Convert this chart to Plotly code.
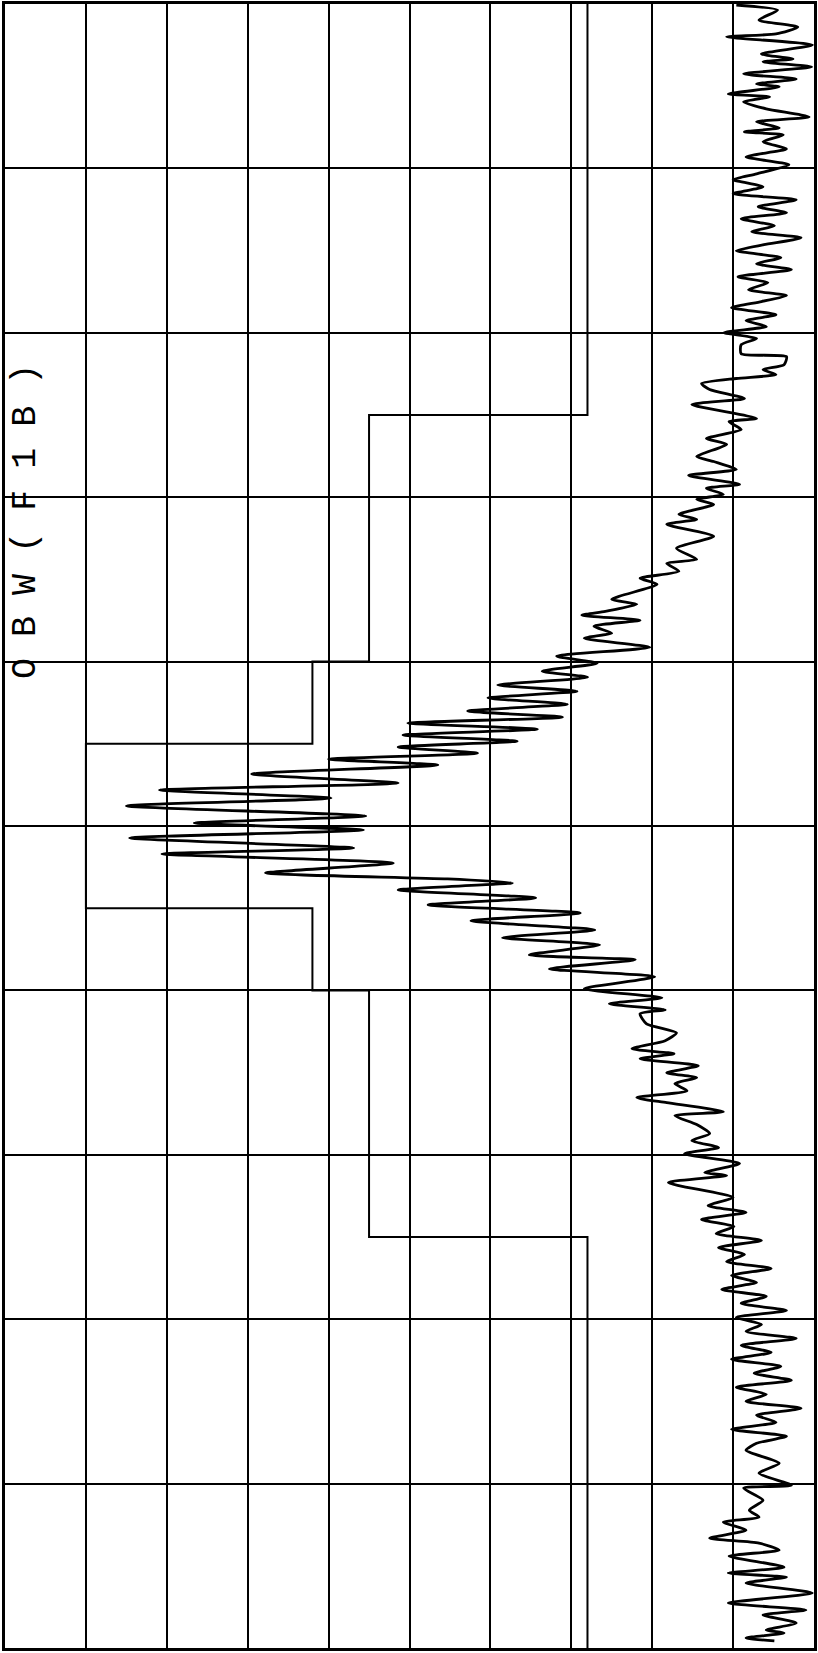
import plotly.graph_objects as go

# Frequency offset (divisions from centre, top = -5) and level (dB, 10 dB/div, ref 0 dB)
freq_top = [-4.994, -4.963, -4.903, -4.860, -4.818, -4.800, -4.751, -4.696, -4.666, -4.648,
            -4.617, -4.575, -4.544, -4.514, -4.496, -4.453, -4.435, -4.405, -4.362, -4.313,
            -4.283, -4.247, -4.222, -4.204, -4.162, -4.119, -4.070, -4.022, -3.967, -3.931,
            -3.888, -3.846, -3.809, -3.767, -3.730, -3.694, -3.651, -3.615, -3.578, -3.536,
            -3.499, -3.457, -3.420, -3.384, -3.341, -3.305, -3.262, -3.226, -3.190, -3.153,
            -3.110, -3.074, -3.038, -3.001, -2.965, -2.928]
level_top = [-90.4, -95.5, -93.2, -98.0, -95.3, -89.2, -99.8, -93.5, -97.4, -93.7,
             -99.7, -91.3, -97.8, -92.9, -95.7, -89.4, -94.5, -91.3, -94.1, -99.4,
             -92.9, -95.7, -91.4, -96.2, -93.7, -96.6, -91.6, -96.9, -92.9, -90.0,
             -93.7, -90.0, -97.8, -93.1, -96.6, -91.0, -95.1, -92.3, -98.4, -93.8,
             -90.4, -95.9, -92.9, -97.2, -90.6, -94.3, -91.9, -96.6, -93.5, -89.8,
             -95.3, -91.6, -94.1, -88.9, -92.9, -91.0]

freq_rise = [-2.873, -2.855, -2.806, -2.776, -2.746, -2.722, -2.691, -2.655, -2.600, -2.564,
             -2.479, -2.460, -2.412, -2.357, -2.321, -2.248, -2.217, -2.169, -2.132, -2.078,
             -2.054, -2.017, -1.987, -1.956, -1.896, -1.865, -1.835, -1.762, -1.689, -1.622,
             -1.598, -1.549, -1.507, -1.470, -1.379, -1.349, -1.306, -1.282, -1.252, -1.215,
             -1.173, -1.142, -1.087, -1.033, -0.990, -0.942, -0.905, -0.857, -0.820, -0.778,
             -0.741, -0.699, -0.662, -0.626, -0.589, -0.553, -0.516, -0.480, -0.443, -0.407,
             -0.371]
level_rise = [-91.0, -96.6, -96.3, -93.7, -95.3, -90.4, -86.1, -87.1, -91.4, -84.9,
              -92.9, -89.5, -91.0, -86.7, -89.2, -85.5, -87.6, -90.4, -84.5, -90.8,
              -86.7, -88.8, -85.5, -87.6, -83.3, -85.5, -81.8, -87.6, -83.0, -85.5,
              -81.8, -83.3, -78.5, -80.6, -75.0, -78.1, -74.2, -71.3, -78.5, -72.8,
              -75.0, -71.6, -79.7, -68.2, -73.2, -66.4, -72.0, -60.9, -70.7, -59.7,
              -69.5, -57.2, -68.9, -49.8, -65.8, -49.2, -63.3, -48.6, -58.4, -40.0,
              -53.5]

freq_peak = [-0.316, -0.261, -0.219, -0.170, -0.122, -0.061, -0.018, 0.024, 0.073, 0.134,
             0.170, 0.225, 0.286, 0.322]
level_peak = [-30.5, -48.6, -19.1, -40.3, -15.0, -44.6, -23.4, -44.3, -15.4, -43.1,
              -19.4, -48.0, -32.2, -54.7]

freq_fall = [0.346, 0.389, 0.437, 0.480, 0.529, 0.577, 0.632, 0.680, 0.723, 0.784,
             0.814, 0.869, 0.917, 0.990, 1.045, 1.081, 1.118, 1.142, 1.203, 1.258,
             1.306, 1.355, 1.385, 1.416, 1.458, 1.501, 1.531, 1.567, 1.610, 1.652,
             1.683, 1.738, 1.762, 1.816, 1.871, 1.914, 1.956, 1.993, 2.053, 2.108,
             2.126, 2.169, 2.260]
level_fall = [-62.7, -48.6, -65.6, -52.3, -71.1, -57.6, -72.9, -61.5, -73.5, -64.8,
              -77.9, -67.3, -80.3, -71.6, -81.2, -74.7, -81.6, -78.5, -79.3, -83.0,
              -81.6, -77.5, -82.7, -78.5, -85.7, -81.8, -85.5, -82.8, -84.3, -78.1,
              -81.8, -88.8, -82.8, -85.5, -87.1, -84.9, -88.2, -84.0, -90.8, -86.5,
              -89.2, -82.0, -90.0]

freq_bottom = [2.309, 2.351, 2.394, 2.436, 2.479, 2.521, 2.564, 2.606, 2.649, 2.691,
               2.734, 2.776, 2.819, 2.861, 2.904, 2.947, 2.989, 3.032, 3.074, 3.117,
               3.159, 3.202, 3.244, 3.287, 3.329, 3.372, 3.414, 3.457, 3.499, 3.542,
               3.584, 3.627, 3.670, 3.712, 3.755, 3.797, 3.876, 3.937, 4.010, 4.028,
               4.101, 4.162, 4.204, 4.235, 4.283, 4.332, 4.362, 4.405, 4.441, 4.508,
               4.544, 4.569, 4.605, 4.666, 4.726, 4.769, 4.799, 4.848, 4.891, 4.909,
               4.939, 4.957]
level_bottom = [-86.9, -91.6, -86.1, -90.1, -87.9, -93.5, -88.2, -91.4, -89.2, -94.7,
                -89.8, -92.9, -88.6, -94.1, -91.0, -96.6, -90.4, -93.5, -91.6, -97.8,
                -91.0, -94.7, -89.8, -95.9, -92.6, -97.2, -90.4, -94.1, -91.6, -98.4,
                -92.9, -95.3, -89.8, -96.6, -92.9, -91.6, -95.7, -93.2, -97.2, -91.3,
                -93.7, -92.0, -93.2, -88.8, -91.6, -87.1, -93.2, -95.7, -89.5, -96.3,
                -89.4, -96.6, -91.6, -99.8, -89.4, -99.0, -93.7, -97.8, -94.1, -96.3,
                -91.6, -95.1]

# Spectrum emission mask (segment start frequencies and levels)
mask_freq = [-5, -2.5, -1.0, -0.5, 0.5, 1.0, 2.5, 5]
mask_level = [-72, -45, -38, -10, -38, -45, -72, -72]

label_text = "O B W ( F 1 B )"

trace_freq = freq_top + freq_rise + freq_peak + freq_fall + freq_bottom
trace_level = level_top + level_rise + level_peak + level_fall + level_bottom

fig = go.Figure()
fig.add_trace(go.Scatter(x=mask_level, y=mask_freq, mode="lines",
                         line=dict(color="black", width=2, shape="vh"),
                         hoverinfo="skip", showlegend=False))
fig.add_trace(go.Scatter(x=trace_level, y=trace_freq, mode="lines",
                         line=dict(color="black", width=2.8, shape="spline", smoothing=0.6),
                         showlegend=False))

fig.add_annotation(x=-2.6, y=-1.85, xref="x", yref="y", text=label_text,
                   textangle=-90, showarrow=False,
                   font=dict(family="Liberation Mono", size=35, color="black"))

axis_common = dict(showgrid=True, gridcolor="black", gridwidth=2,
                   showline=True, linecolor="black", linewidth=3, mirror=True,
                   zeroline=False, showticklabels=False, ticks="")
fig.update_xaxes(range=[0, -100], dtick=10, tick0=0, **axis_common)
fig.update_yaxes(range=[5, -5], dtick=1, tick0=0, **axis_common)

fig.update_layout(width=818, height=1653,
                  margin=dict(l=5, r=1, t=2, b=5),
                  plot_bgcolor="white", paper_bgcolor="white")

fig.write_html("out.html", config={"displayModeBar": False},
               post_script="document.body.style.margin='0';document.body.style.overflow='hidden';")
